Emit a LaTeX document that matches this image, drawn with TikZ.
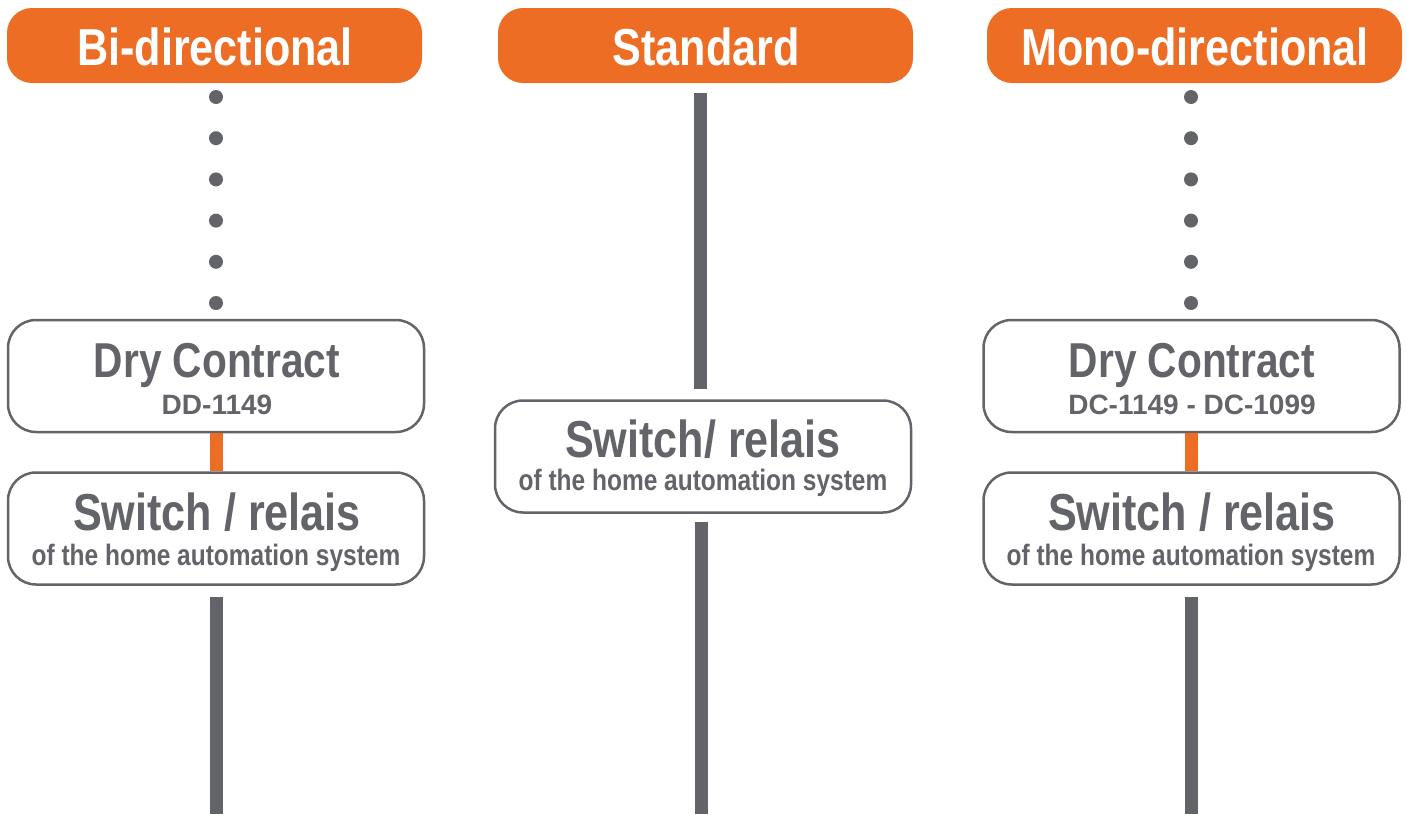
\documentclass[tikz,border=0pt]{standalone}
\usepackage{fontspec}
\setmainfont{Liberation Sans}[FakeStretch=0.83]
\newfontfamily\codefont{Liberation Sans}
\begin{document}
\begin{tikzpicture}[x=1pt,y=-1pt,
  hdr/.style={fill=orng,draw=none,rounded corners=25pt,minimum width=415pt,minimum height=75pt,inner sep=0pt},
  box/.style={draw=gry,line width=2.5pt,rounded corners=28pt,fill=white,minimum width=416pt,minimum height=112pt,inner sep=0pt},
  hdrtxt/.style={anchor=base,text=white,font=\fontsize{52}{52}\selectfont\bfseries,inner sep=0pt},
  bigtxt/.style={anchor=base,text=gry,font=\fontsize{49}{49}\selectfont\bfseries,inner sep=0pt},
  swtxt/.style={anchor=base,text=gry,font=\fontsize{52}{52}\selectfont\bfseries,inner sep=0pt},
  codetxt/.style={anchor=base,text=gry,font=\fontsize{28}{28}\codefont\bfseries,inner sep=0pt},
  subtxt/.style={anchor=base,text=gry,font=\fontsize{29.5}{29.5}\selectfont\bfseries,inner sep=0pt},
  bar/.style={draw=gry,line width=13pt},
  obar/.style={draw=orng,line width=13pt},
  dots/.style={draw=gry,line width=14pt,line cap=round,dash pattern=on 0pt off 41.2pt}
]
\definecolor{orng}{HTML}{EC6D23}
\definecolor{gry}{HTML}{636469}
\useasboundingbox (0,0) rectangle (1407,814);

% headers
\node[hdr] (h1) at (214.5,45.5) {};
\node[hdr] (h2) at (705.5,45.5) {};
\node[hdr] (h3) at (1194.5,45.5) {};
\node[hdrtxt] (h1t) at (215,65) {Bi-directional};
\node[hdrtxt] (h2t) at (706,65) {Standard};
\node[hdrtxt] (h3t) at (1195,65) {Mono-directional};

% left column
\node[box] (l1) at (216,376) {};
\node[box] (l2) at (216,528.5) {};
\node[bigtxt] (l1a) at (217,377) {Dry Contract};
\node[codetxt] (l1b) at (217,414) {DD-1149};
\node[swtxt] (l2a) at (217,530) {Switch / relais};
\node[subtxt] (l2b) at (216,565) {of the home automation system};
\coordinate (lend) at (216,814);
\coordinate (ld0) at (216,97);
\coordinate (ld1) at (216,303);

% middle column
\node[box] (m1) at (703,456.5) {};
\node[swtxt] (m1a) at (703,457) {Switch/ relais};
\node[subtxt] (m1b) at (703,490) {of the home automation system};
\coordinate (mtop) at (700.5,93);
\coordinate (mend) at (701.5,814);

% right column
\node[box] (r1) at (1191.5,376) {};
\node[box] (r2) at (1191.5,528.5) {};
\node[bigtxt] (r1a) at (1192,377) {Dry Contract};
\node[codetxt] (r1b) at (1192,414) {DC-1149 - DC-1099};
\node[swtxt] (r2a) at (1192,530) {Switch / relais};
\node[subtxt] (r2b) at (1191,565) {of the home automation system};
\coordinate (rend) at (1191.5,814);
\coordinate (rd0) at (1191,97);
\coordinate (rd1) at (1191,303);

% connectors
\draw[dots] (ld0) -- (ld1);
\draw[dots] (rd0) -- (rd1);
\draw[obar] (l1.south) -- (l2.north);
\draw[obar] (r1.south) -- (r2.north);
\draw[bar] ([yshift=-11pt]l2.south) -- (lend);
\draw[bar] ([yshift=-11pt]r2.south) -- (rend);
\draw[bar] (mtop) -- ([yshift=10pt]m1.north -| mtop);
\draw[bar] ([yshift=-8pt]m1.south -| mend) -- (mend);
\end{tikzpicture}
\end{document}
